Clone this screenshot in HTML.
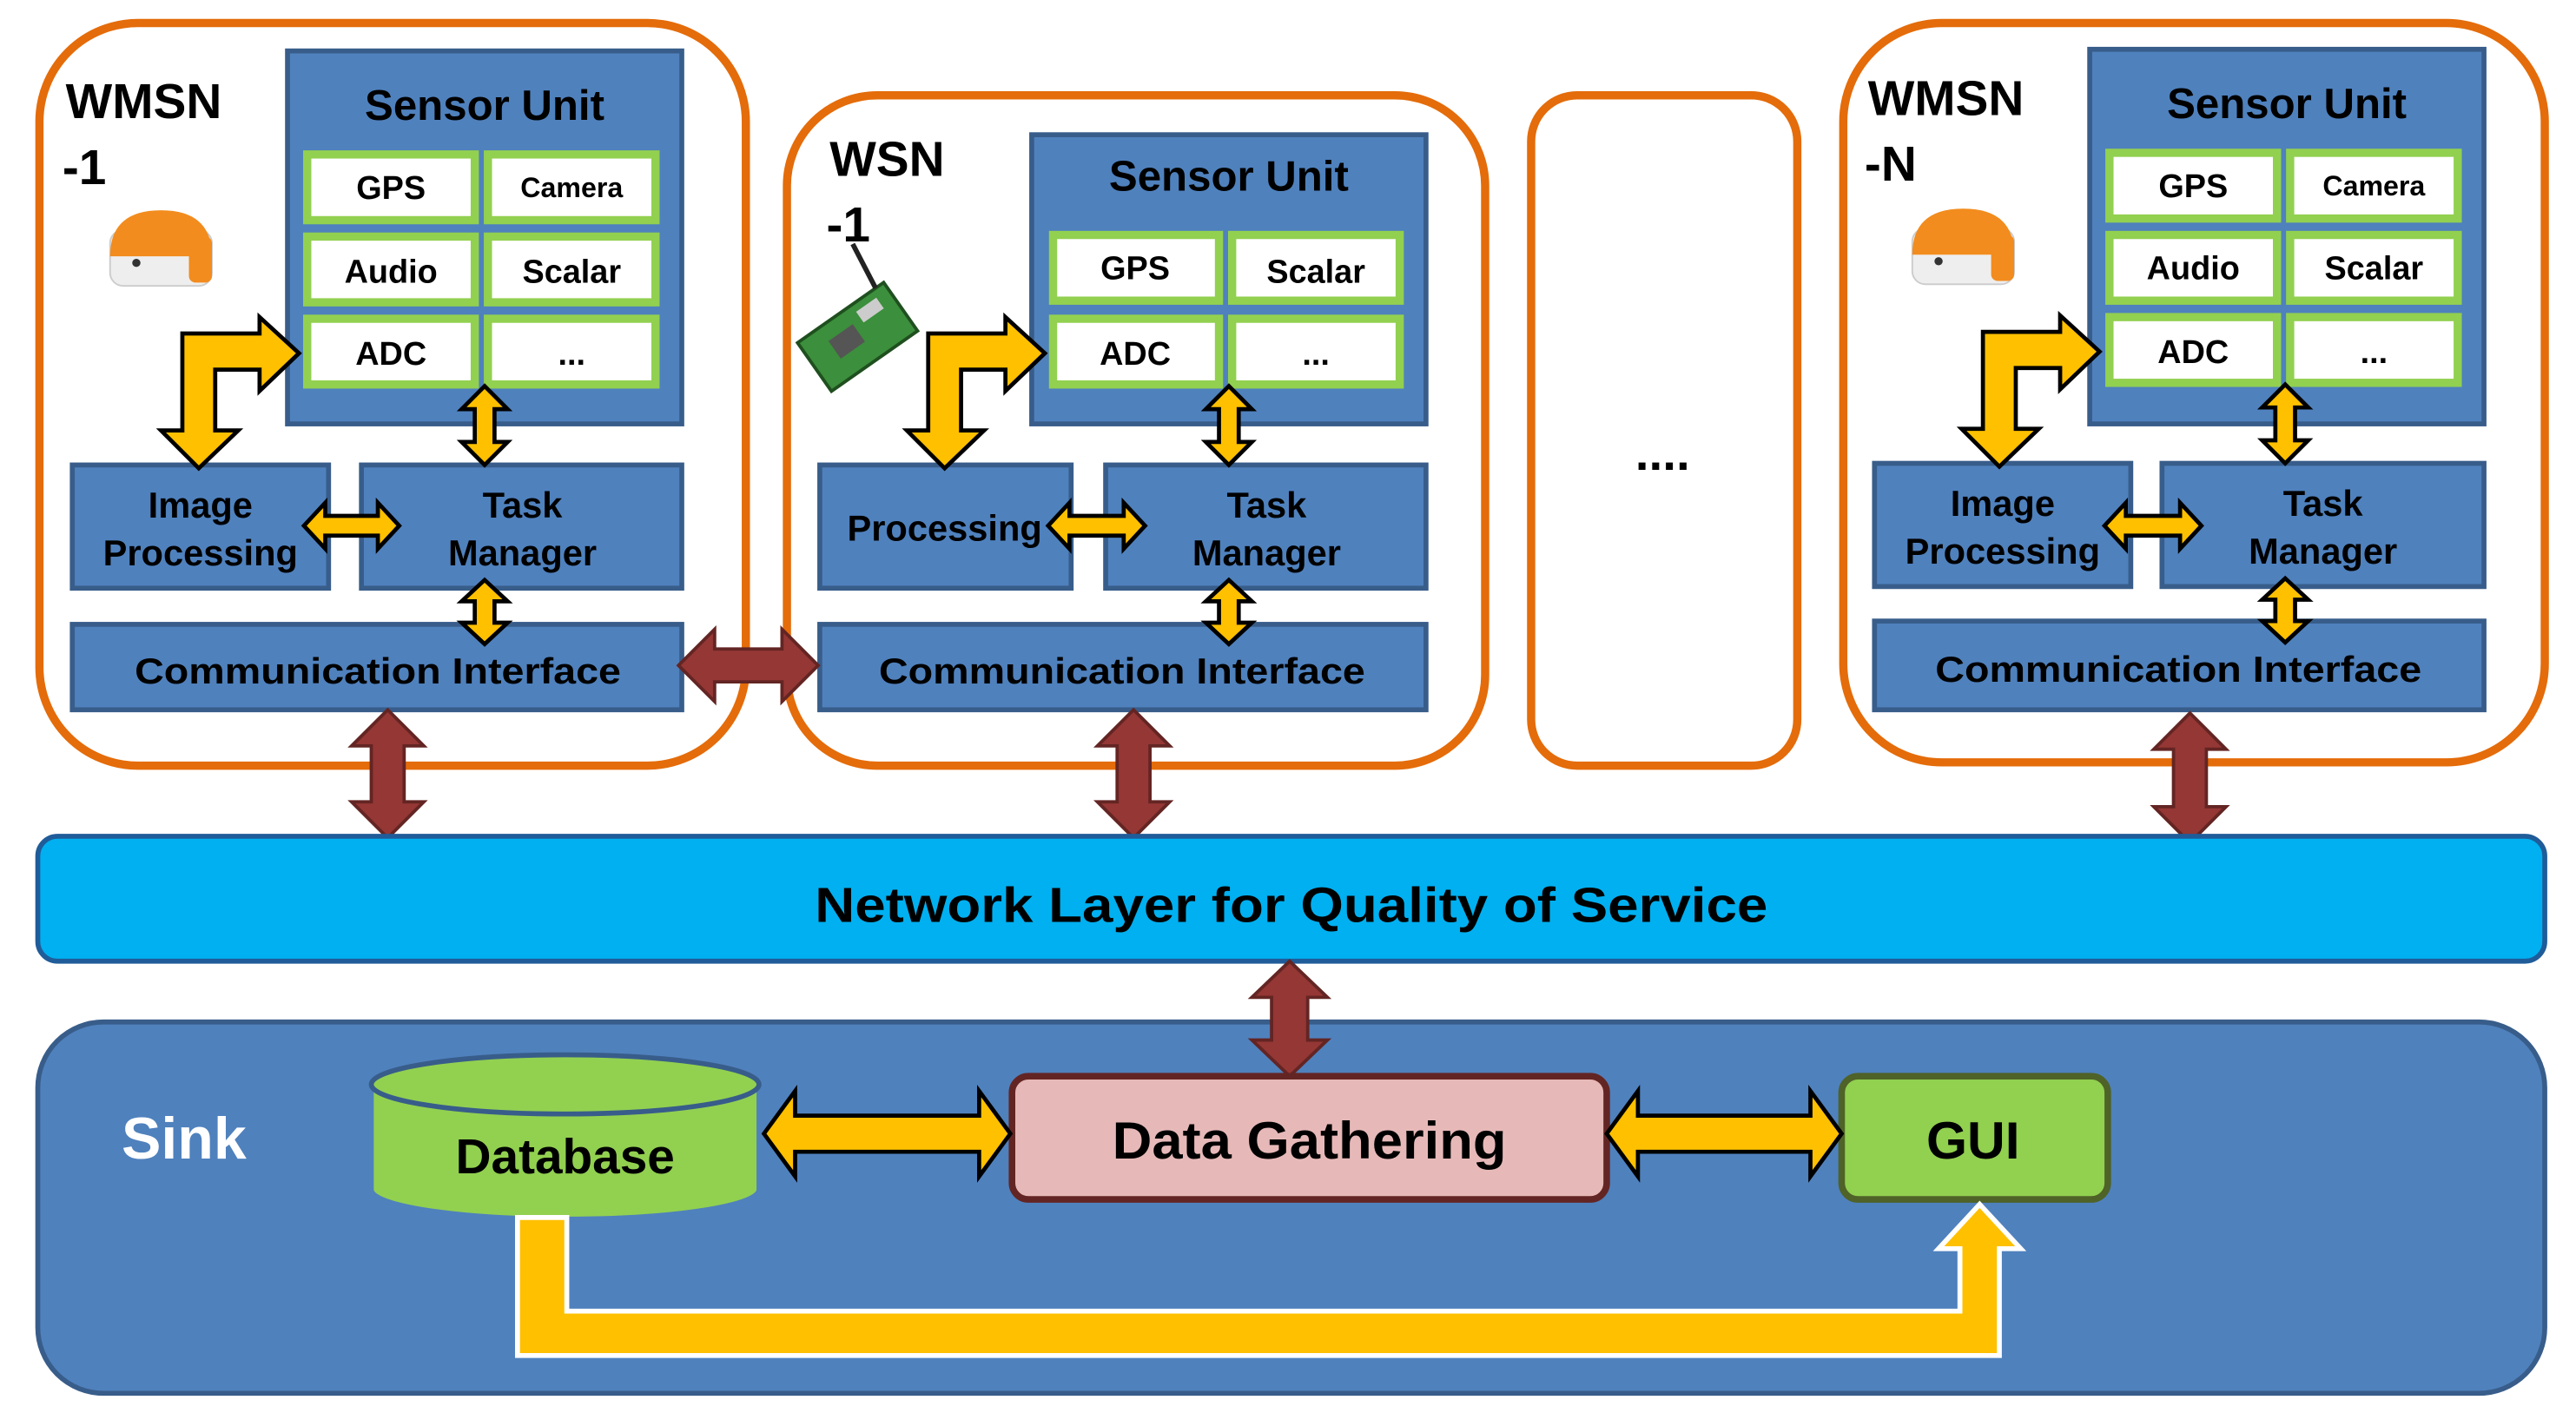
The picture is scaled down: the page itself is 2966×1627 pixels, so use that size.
<!DOCTYPE html>
<html><head><meta charset="utf-8"><style>html,body{margin:0;padding:0;background:#fff}svg{display:block}</style></head>
<body>
<svg width="2966" height="1627" viewBox="0 0 1568 860" preserveAspectRatio="none" xmlns="http://www.w3.org/2000/svg" font-family="Liberation Sans, sans-serif" font-weight="bold">
<defs>
<g id="dome">
<rect x="0" y="12" width="62" height="34" rx="8" fill="#eee" stroke="#ccc"/>
<path d="M0,28 Q0,0 31,0 Q62,0 62,28 Z" fill="#F28C1E"/>
<rect x="48" y="16" width="14" height="28" rx="4" fill="#F28C1E"/>
<circle cx="16" cy="32" r="2.5" fill="#333"/>
</g>
</defs>
<g fill="#fff" stroke="#E46C0A" stroke-width="5">
<rect x="24" y="14" width="430" height="452" rx="60"/>
<rect x="479" y="58" width="425" height="408" rx="55"/>
<rect x="932" y="58" width="162" height="408" rx="28"/>
<rect x="1122" y="14" width="427" height="450" rx="60"/>
</g>
<g fill="#4F81BD" stroke="#385D8A" stroke-width="3">
<rect x="175" y="31" width="240" height="227"/>
<rect x="44" y="283" width="156" height="75"/>
<rect x="220" y="283" width="195" height="75"/>
<rect x="44" y="380" width="371" height="52"/>
<rect x="628" y="82" width="240" height="176"/>
<rect x="499" y="283" width="153" height="75"/>
<rect x="673" y="283" width="195" height="75"/>
<rect x="499" y="380" width="369" height="52"/>
<rect x="1272" y="30" width="240" height="228"/>
<rect x="1141" y="282" width="156" height="75"/>
<rect x="1316" y="282" width="196" height="75"/>
<rect x="1141" y="378" width="371" height="54"/>
</g>
<g fill="#fff" stroke="#92D050" stroke-width="5">
<rect x="187" y="94" width="102" height="40"/><rect x="297" y="94" width="102" height="40"/>
<rect x="187" y="144" width="102" height="40"/><rect x="297" y="144" width="102" height="40"/>
<rect x="187" y="194" width="102" height="40"/><rect x="297" y="194" width="102" height="40"/>
<rect x="641" y="143" width="101" height="40"/><rect x="750" y="143" width="102" height="40"/>
<rect x="641" y="194" width="101" height="40"/><rect x="750" y="194" width="102" height="40"/>
<rect x="1284" y="93" width="102" height="40"/><rect x="1394" y="93" width="102" height="40"/>
<rect x="1284" y="143" width="102" height="40"/><rect x="1394" y="143" width="102" height="40"/>
<rect x="1284" y="193" width="102" height="40"/><rect x="1394" y="193" width="102" height="40"/>
</g>
<g text-anchor="middle" fill="#000">
<g font-size="26"><text x="295" y="73">Sensor Unit</text><text x="748" y="116">Sensor Unit</text><text x="1392" y="72">Sensor Unit</text></g>
<g font-size="20">
<text x="238" y="121">GPS</text><text x="348" y="120" font-size="17">Camera</text>
<text x="238" y="172">Audio</text><text x="348" y="172">Scalar</text>
<text x="238" y="222">ADC</text><text x="348" y="222">...</text>
<text x="691" y="170">GPS</text><text x="801" y="172">Scalar</text>
<text x="691" y="222">ADC</text><text x="801" y="222">...</text>
<text x="1335" y="120">GPS</text><text x="1445" y="119" font-size="17">Camera</text>
<text x="1335" y="170">Audio</text><text x="1445" y="170">Scalar</text>
<text x="1335" y="221">ADC</text><text x="1445" y="221">...</text>
</g>
<g font-size="22">
<text x="122" y="315">Image</text><text x="122" y="344">Processing</text>
<text x="318" y="315">Task</text><text x="318" y="344">Manager</text>
<text x="230" y="416" textLength="296" lengthAdjust="spacingAndGlyphs">Communication  Interface</text>
<text x="575" y="329">Processing</text>
<text x="771" y="315">Task</text><text x="771" y="344">Manager</text>
<text x="683" y="416" textLength="296" lengthAdjust="spacingAndGlyphs">Communication  Interface</text>
<text x="1219" y="314">Image</text><text x="1219" y="343">Processing</text>
<text x="1414" y="314">Task</text><text x="1414" y="343">Manager</text>
<text x="1326" y="415" textLength="296" lengthAdjust="spacingAndGlyphs">Communication  Interface</text>
</g>
</g>
<g font-size="30" fill="#000">
<text x="40" y="72">WMSN</text><text x="38" y="112">-1</text>
<text x="505" y="107">WSN</text><text x="503" y="147">-1</text>
<text x="1137" y="70">WMSN</text><text x="1135" y="110">-N</text>
<text x="1012" y="286" text-anchor="middle" font-size="30">....</text>
</g>
<use href="#dome" x="67" y="128"/>
<use href="#dome" x="1164" y="127"/>
<g transform="translate(522,205) rotate(-35)">
<rect x="-32" y="-18" width="64" height="36" fill="#3C8F3C" stroke="#1f4f1f" stroke-width="2"/>
<rect x="-16" y="-8" width="18" height="13" fill="#555"/>
<rect x="8" y="-13" width="15" height="8" fill="#ccc"/>
<line x1="26" y1="-18" x2="30" y2="-48" stroke="#222" stroke-width="3"/>
</g>
<g fill="#FFC000" stroke="#000" stroke-width="2.5" stroke-linejoin="miter">
<polygon points="182,215 158,193 158,203 111,203 111,262 98,262 121,285 145,262 131,262 131,225 158,225 158,238"/>
<polygon points="636,215 612,193 612,203 565,203 565,262 552,262 575,285 599,262 585,262 585,225 612,225 612,238"/>
<polygon points="1278,214 1254,192 1254,202 1207,202 1207,261 1194,261 1217,284 1241,261 1227,261 1227,224 1254,224 1254,237"/>
<polygon points="295,235 309,249 301,249 301,269 309,269 295,283 281,269 289,269 289,249 281,249"/>
<polygon points="295,353 309,366 301,366 301,379 309,379 295,392 281,379 289,379 289,366 281,366"/>
<polygon points="185,320 198,306 198,314 230,314 230,306 243,320 230,334 230,326 198,326 198,334"/>
<polygon points="748,235 762,249 754,249 754,269 762,269 748,283 734,269 742,269 742,249 734,249"/>
<polygon points="748,353 762,366 754,366 754,379 762,379 748,392 734,379 742,379 742,366 734,366"/>
<polygon points="638,320 651,306 651,314 684,314 684,306 697,320 684,334 684,326 651,326 651,334"/>
<polygon points="1391,234 1405,248 1397,248 1397,268 1405,268 1391,282 1377,268 1385,268 1385,248 1377,248"/>
<polygon points="1391,352 1405,365 1397,365 1397,378 1405,378 1391,391 1377,378 1385,378 1385,365 1377,365"/>
<polygon points="1281,320 1294,306 1294,314 1327,314 1327,306 1340,320 1327,334 1327,326 1294,326 1294,334"/>
</g>
<g fill="#953735" stroke="#632523" stroke-width="2">
<polygon points="413,405 435,383 435,395 476,395 476,383 498,405 476,427 476,415 435,415 435,427"/>
<polygon points="236,432 258,454 246,454 246,488 258,488 236,510 214,488 226,488 226,454 214,454"/>
<polygon points="690,432 712,454 700,454 700,488 712,488 690,510 668,488 680,488 680,454 668,454"/>
<polygon points="1333,434 1355,456 1343,456 1343,491 1355,491 1333,513 1311,491 1323,491 1323,456 1311,456"/>
</g>
<rect x="23" y="509" width="1526" height="76" rx="12" fill="#00B0F0" stroke="#1F5C99" stroke-width="3"/>
<text x="786" y="561" text-anchor="middle" font-size="30" fill="#000" textLength="580" lengthAdjust="spacingAndGlyphs">Network Layer for Quality of Service</text>
<rect x="23" y="622" width="1526" height="226" rx="40" fill="#4F81BD" stroke="#385D8A" stroke-width="3"/>
<polygon points="785,585 808,607 796,607 796,633 808,633 785,655 762,633 774,633 774,607 762,607" fill="#953735" stroke="#632523" stroke-width="2"/>
<text x="74" y="705" font-size="36" fill="#fff">Sink</text>
<path d="M226,660 L226,724 A118,18 0 0 0 462,724 L462,660 Z" fill="#92D050" stroke="#4F81BD" stroke-width="3"/>
<ellipse cx="344" cy="660" rx="118" ry="18" fill="#92D050" stroke="#385D8A" stroke-width="3"/>
<text x="344" y="714" text-anchor="middle" font-size="30">Database</text>
<rect x="616" y="655" width="362" height="75" rx="10" fill="#E6B9B8" stroke="#632523" stroke-width="4"/>
<text x="797" y="705" text-anchor="middle" font-size="32" textLength="240" lengthAdjust="spacingAndGlyphs">Data Gathering</text>
<rect x="1121" y="655" width="162" height="75" rx="10" fill="#92D050" stroke="#4F6228" stroke-width="4"/>
<text x="1201" y="705" text-anchor="middle" font-size="32">GUI</text>
<g fill="#FFC000" stroke="#000" stroke-width="2.5">
<polygon points="465,690 484,664 484,679 596,679 596,664 615,690 596,716 596,701 484,701 484,716"/>
<polygon points="978,690 997,664 997,679 1102,679 1102,664 1121,690 1102,716 1102,701 997,701 997,716"/>
</g>
<polygon points="315,741 345,741 345,798 1193,798 1193,760 1180,760 1205,733 1230,760 1217,760 1217,825 315,825" fill="#FFC000" stroke="#fff" stroke-width="3"/>
</svg>
</body></html>
